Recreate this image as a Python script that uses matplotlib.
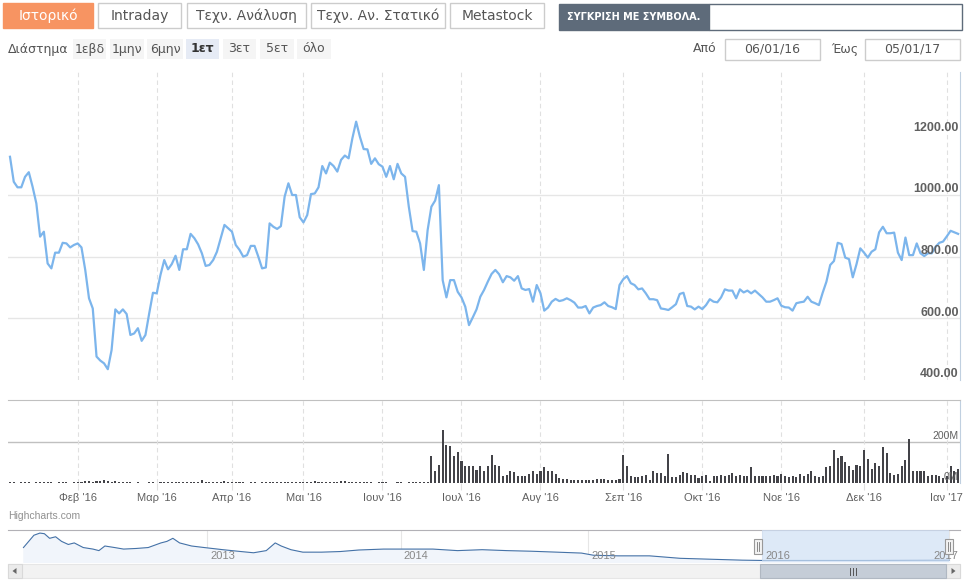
import matplotlib
matplotlib.use('Agg')
import matplotlib.pyplot as plt
from matplotlib.patches import Rectangle, Polygon

plt.rcParams['font.family'] = ['Liberation Sans', 'DejaVu Sans']

# ---- data ----
close = [
    1124, 1043, 1025, 1025, 1059, 1074, 1027, 973, 865, 881,
    778, 762, 813, 813, 845, 843, 830, 838, 843, 830,
    757, 665, 632, 476, 463, 454, 435, 497, 629, 616,
    629, 614, 546, 551, 568, 527, 546, 616, 683, 681,
    741, 789, 759, 776, 803, 757, 824, 824, 874, 860,
    840, 811, 770, 773, 789, 816, 860, 903, 892, 881,
    838, 822, 800, 805, 835, 835, 800, 762, 765, 908,
    897, 890, 899, 995, 1038, 1000, 1000, 928, 911, 935,
    1003, 1005, 1025, 1094, 1070, 1105, 1094, 1076, 1114, 1128,
    1119, 1184, 1238, 1189, 1149, 1148, 1101, 1119, 1100, 1092,
    1059, 1094, 1051, 1101, 1070, 1059, 962, 883, 881, 843,
    757, 886, 962, 982, 1032, 724, 668, 724, 724, 686,
    668, 638, 578, 603, 629, 670, 692, 719, 744, 757,
    743, 717, 737, 733, 722, 737, 697, 692, 695, 654,
    708, 681, 625, 635, 654, 663, 656, 659, 665, 659,
    651, 635, 635, 640, 616, 635, 640, 643, 652, 640,
    636, 630, 708, 727, 737, 714, 708, 694, 697, 681,
    662, 662, 659, 632, 630, 627, 636, 646, 679, 683,
    640, 638, 629, 638, 630, 643, 662, 654, 652, 668,
    694, 690, 690, 665, 694, 684, 690, 681, 690, 679,
    668, 654, 654, 659, 665, 641, 636, 635, 625, 649,
    652, 654, 670, 654, 649, 643, 683, 719, 773, 786,
    845, 841, 797, 792, 733, 776, 827, 813, 797, 816,
    824, 879, 897, 876, 876, 878, 813, 789, 862, 805,
    805, 843, 811, 802, 811, 811, 832, 845, 849, 866,
    884, 879, 874,
]

# volume in millions, one per trading day
volume = [
    3, 3, 2, 3, 3, 3, 2, 3, 3, 6, 3, 3, 2, 3, 3, 3, 2, 3,
    5, 7, 8, 8, 7, 10, 9, 13, 8, 6, 9, 4,
    3, 3, 3, 2, 3, 0, 0, 3, 3, 2, 3, 3, 3, 4, 3, 3, 4, 3, 5, 4, 3,
    16,
    4, 3, 4, 3, 4, 8, 3, 3, 4, 3, 3, 2, 3, 3, 0, 3,
    5, 4, 5, 5, 4, 5, 6, 4, 4, 5, 5, 6, 5, 10, 4, 5, 4, 5, 6, 4, 10, 9,
    5, 4, 4, 3, 4, 4, 3, 0, 3, 4, 3, 0, 0, 4, 3, 0, 4, 4, 3, 3, 6, 5,
    130, 57, 90, 257, 184, 179, 130, 150, 109, 81, 81, 81, 65,
    81, 57, 81, 139, 90, 81, 33, 41, 57, 52, 33, 33, 36, 44, 60, 44, 60, 77, 60, 57, 44,
    24, 20, 18, 16, 16, 15, 16, 14, 16, 16, 18, 20, 18, 16, 14, 16, 18,
    139, 81, 33, 28, 28, 33, 41, 16, 60, 49, 49, 33, 143, 28, 28, 41, 52, 47, 41, 41,
    24, 33, 41, 11, 33, 36, 41, 36, 41, 49, 33, 41, 33, 36, 77, 33, 36, 36, 33, 33,
    41, 33, 44, 33, 28, 33, 28, 44, 36, 44, 57, 36, 28, 33, 77, 81, 163, 122, 130, 101,
    81, 65, 90, 81, 163, 119, 70, 98, 81, 174, 147, 49, 41, 44, 81, 114, 217, 57, 60, 60,
    60, 33, 41, 41, 33, 24, 33, 81, 57, 70,
]

month_pos = [18, 39, 59, 78, 99, 120, 141, 163, 184, 205, 227, 249]
month_labels = ["Φεβ '16", "Μαρ '16", "Απρ '16", "Μαι '16", "Ιουν '16", "Ιουλ '16",
                "Αυγ '16", "Σεπ '16", "Οκτ '16", "Νοε '16", "Δεκ '16", "Ιαν '17"]
price_ticks = [400, 600, 800, 1000, 1200]
vol_ticks = [0, 200]

# navigator (whole history, relative level)
nav_day = [2, 16, 24, 30, 37, 45, 53, 62, 70, 82, 95, 103, 111, 124, 136, 153, 169, 186,
           194, 202, 211, 219, 227, 244, 269, 293, 310, 327, 339, 347, 360, 376, 401, 426,
           451, 484, 517, 550, 583, 616, 649, 682, 716, 749, 765, 798, 840, 881, 922, 964,
           991, 1047, 1130, 1241]
nav_level = [45, 85, 92, 90, 75, 80, 65, 55, 60, 45, 40, 35, 50, 45, 40, 42, 45, 60,
             65, 75, 60, 55, 50, 45, 38, 32, 28, 35, 60, 50, 38, 30, 30, 32,
             37, 40, 40, 40, 35, 38, 35, 33, 30, 27, 20, 18, 18, 10, 7, 4,
             3, 3, 3, 4]
year_pos = [248, 507, 758, 991, 1241]
year_labels = ['2013', '2014', '2015', '2016', '2017']
sel_start, sel_end = 991, 1241

W, H = 965, 580
fig = plt.figure(figsize=(W / 100, H / 100), dpi=100)


def box(x0, y0, x1, y1):
    return [x0 / W, 1 - y1 / H, (x1 - x0) / W, (y1 - y0) / H]


# ---- html-like controls ----
ui = fig.add_axes([0, 0, 1, 1])
ui.set_xlim(0, W)
ui.set_ylim(H, 0)
ui.axis('off')
narrow = ['Liberation Sans Narrow', 'DejaVu Sans']

tabs = [('Ιστορικό', 3, 93), ('Intraday', 98, 181), ('Τεχν. Ανάλυση', 187, 306),
        ('Τεχν. Αν. Στατικό', 311, 445), ('Metastock', 450, 544)]
for i, (lab, x0, x1) in enumerate(tabs):
    if i == 0:
        ui.add_patch(Rectangle((x0, 3), x1 - x0, 25, fc='#F79462', ec='#F79462', lw=1))
        col = 'white'
    else:
        ui.add_patch(Rectangle((x0, 3), x1 - x0, 25, fc='white', ec='#CCCCCC', lw=1))
        col = '#555555'
    ui.text((x0 + x1) / 2, 16, lab, ha='center', va='center', fontsize=10,
            color=col, family=narrow)

ui.add_patch(Rectangle((559, 4), 150, 26, fc='#5E6B7A', ec='#5E6B7A', lw=1))
ui.add_patch(Rectangle((709, 4), 253, 26, fc='white', ec='#5E6B7A', lw=1))
ui.text(567, 17, 'ΣΥΓΚΡΙΣΗ ΜΕ ΣΥΜΒΟΛΑ.', ha='left', va='center', fontsize=7,
        color='white', fontweight='bold', family=narrow)

ui.text(8, 49, 'Διάστημα', ha='left', va='center', fontsize=9, color='#555555', family=narrow)
ranges = [('1εβδ', 73, 106), ('1μην', 110, 144), ('6μην', 147, 183), ('1ετ', 186, 219),
          ('3ετ', 223, 256), ('5ετ', 260, 294), ('όλο', 297, 331)]
for lab, x0, x1 in ranges:
    sel = lab == '1ετ'
    ui.add_patch(Rectangle((x0, 39), x1 - x0, 20, fc='#E6EBF5' if sel else '#F5F5F5',
                           ec='none'))
    ui.text((x0 + x1) / 2, 49, lab, ha='center', va='center', fontsize=9,
            color='#333333' if sel else '#555555', fontweight='bold' if sel else 'normal',
            family=narrow)

ui.text(717, 49, 'Από', ha='right', va='center', fontsize=9, color='#555555', family=narrow)
ui.add_patch(Rectangle((725, 39), 95, 21, fc='white', ec='#CCCCCC', lw=1))
ui.text(772, 49.5, '06/01/16', ha='center', va='center', fontsize=9, color='#555555',
        family=narrow)
ui.text(858, 49, 'Έως', ha='right', va='center', fontsize=9, color='#555555', family=narrow)
ui.add_patch(Rectangle((865, 39), 95, 21, fc='white', ec='#CCCCCC', lw=1))
ui.text(912, 49.5, '05/01/17', ha='center', va='center', fontsize=9, color='#555555',
        family=narrow)

ui.text(8, 516, 'Highcharts.com', ha='left', va='center', fontsize=7.5, color='#909090')

# ---- price pane ----
n = len(close)
xlim = (-0.53, 252.5)
axp = fig.add_axes(box(8, 72, 960, 380))
axp.set_xlim(*xlim)
axp.set_ylim(400, 1399)
for y in price_ticks[1:4]:
    axp.axhline(y, color='#E6E6E6', lw=1, zorder=0)
for x in month_pos:
    axp.axvline(x, color='#E0E0E0', lw=0.8, ls=(0, (4, 3)), zorder=0)
axp.plot(range(n), close, color='#7CB5EC', lw=1.6, zorder=2)
for v in price_ticks:
    axp.annotate(f'{v:.2f}', xy=(0.9985, v), xycoords=('axes fraction', 'data'),
                 xytext=(0, 4), textcoords='offset points', ha='right', va='center',
                 fontsize=9, fontweight='bold', color='#606060', zorder=3)
for s in ['top', 'left', 'bottom']:
    axp.spines[s].set_visible(False)
axp.spines['right'].set_color('#C0D0E0')
axp.set_xticks([])
axp.set_yticks([])

# ---- volume pane ----
axv = fig.add_axes(box(8, 400, 960, 483))
axv.set_xlim(*xlim)
axv.set_ylim(0, 405)
axv.axhline(200, color='#C0C0C0', lw=1, zorder=0)
for x in month_pos:
    axv.axvline(x, color='#E0E0E0', lw=0.8, ls=(0, (4, 3)), zorder=0)
axv.bar(range(n), volume, width=0.55, color='#434348', zorder=2)
for v in vol_ticks:
    axv.annotate(f'{v}M', xy=(0.9985, v), xycoords=('axes fraction', 'data'),
                 xytext=(0, 4), textcoords='offset points', ha='right', va='center',
                 fontsize=7.5, color='#606060', zorder=3)
for s in ['left', 'bottom']:
    axv.spines[s].set_visible(False)
axv.spines['top'].set_color('#C0C0C0')
axv.spines['right'].set_color('#C0D0E0')
axv.set_yticks([])
axv.set_xticks(month_pos)
axv.set_xticklabels(month_labels)
axv.tick_params(axis='x', length=5, width=0.8, color='#E0E0E0', labelsize=8,
                labelcolor='#606060', pad=2.5)

# ---- navigator ----
axn = fig.add_axes(box(8, 530, 960, 562))
axn.set_xlim(-18.7, 1255.7)
axn.set_ylim(-2, 102)
for x in year_pos:
    axn.axvline(x, color='#E6E6E6', lw=0.8, zorder=0)
axn.fill_between(nav_day, nav_level, -2, color='#F1F5FB', zorder=1)
axn.plot(nav_day, nav_level, color='#4572A7', lw=0.8, zorder=2)
axn.axvspan(sel_start, sel_end, color='#CFE0F5', alpha=0.7, lw=0, zorder=3)
for x, lab in zip(year_pos[:-1], year_labels[:-1]):
    axn.annotate(lab, xy=(x, 0), xycoords=('data', 'axes fraction'), xytext=(2, 1),
                 textcoords='offset points', ha='left', va='bottom', fontsize=8,
                 color='#888888', zorder=4)
# last year label is pushed inside the plot edge
axn.annotate(year_labels[-1], xy=(1.0, 0), xycoords='axes fraction', xytext=(-1, 1),
             textcoords='offset points', ha='right', va='bottom', fontsize=8,
             color='#888888', zorder=4)
for s in ['left', 'bottom', 'right']:
    axn.spines[s].set_visible(False)
axn.spines['top'].set_color('#B2B1B6')
axn.set_xticks([])
axn.set_yticks([])

# ---- scrollbar and handles ----
top = fig.add_axes([0, 0, 1, 1])
top.set_xlim(0, W)
top.set_ylim(H, 0)
top.axis('off')
top.patch.set_alpha(0)
top.add_patch(Rectangle((8, 564), 952, 14, fc='#F2F2F2', ec='#E6E6E6', lw=0.8))
top.add_patch(Rectangle((8, 564), 14, 14, fc='#EBEBEB', ec='#D9D9D9', lw=0.8))
top.add_patch(Rectangle((946, 564), 14, 14, fc='#EBEBEB', ec='#D9D9D9', lw=0.8))
top.add_patch(Polygon([(16.5, 568), (12.5, 571), (16.5, 574)], closed=True, fc='#666666'))
top.add_patch(Polygon([(951.5, 568), (955.5, 571), (951.5, 574)], closed=True, fc='#666666'))
top.add_patch(Rectangle((760, 564), 186, 14, fc='#C5CDD7', ec='#B0B8C2', lw=0.8))
for dx in (-3, 0, 3):
    top.plot([853 + dx, 853 + dx], [567.5, 574.5], color='#555555', lw=0.7)
for hx in (758, 949):
    top.add_patch(Rectangle((hx - 4, 539), 8, 15, fc='#F2F2F2', ec='#999999', lw=0.8))
    for dx in (-1.2, 1.2):
        top.plot([hx + dx, hx + dx], [542, 551], color='#777777', lw=0.6)

fig.savefig('out.png', dpi=100)
